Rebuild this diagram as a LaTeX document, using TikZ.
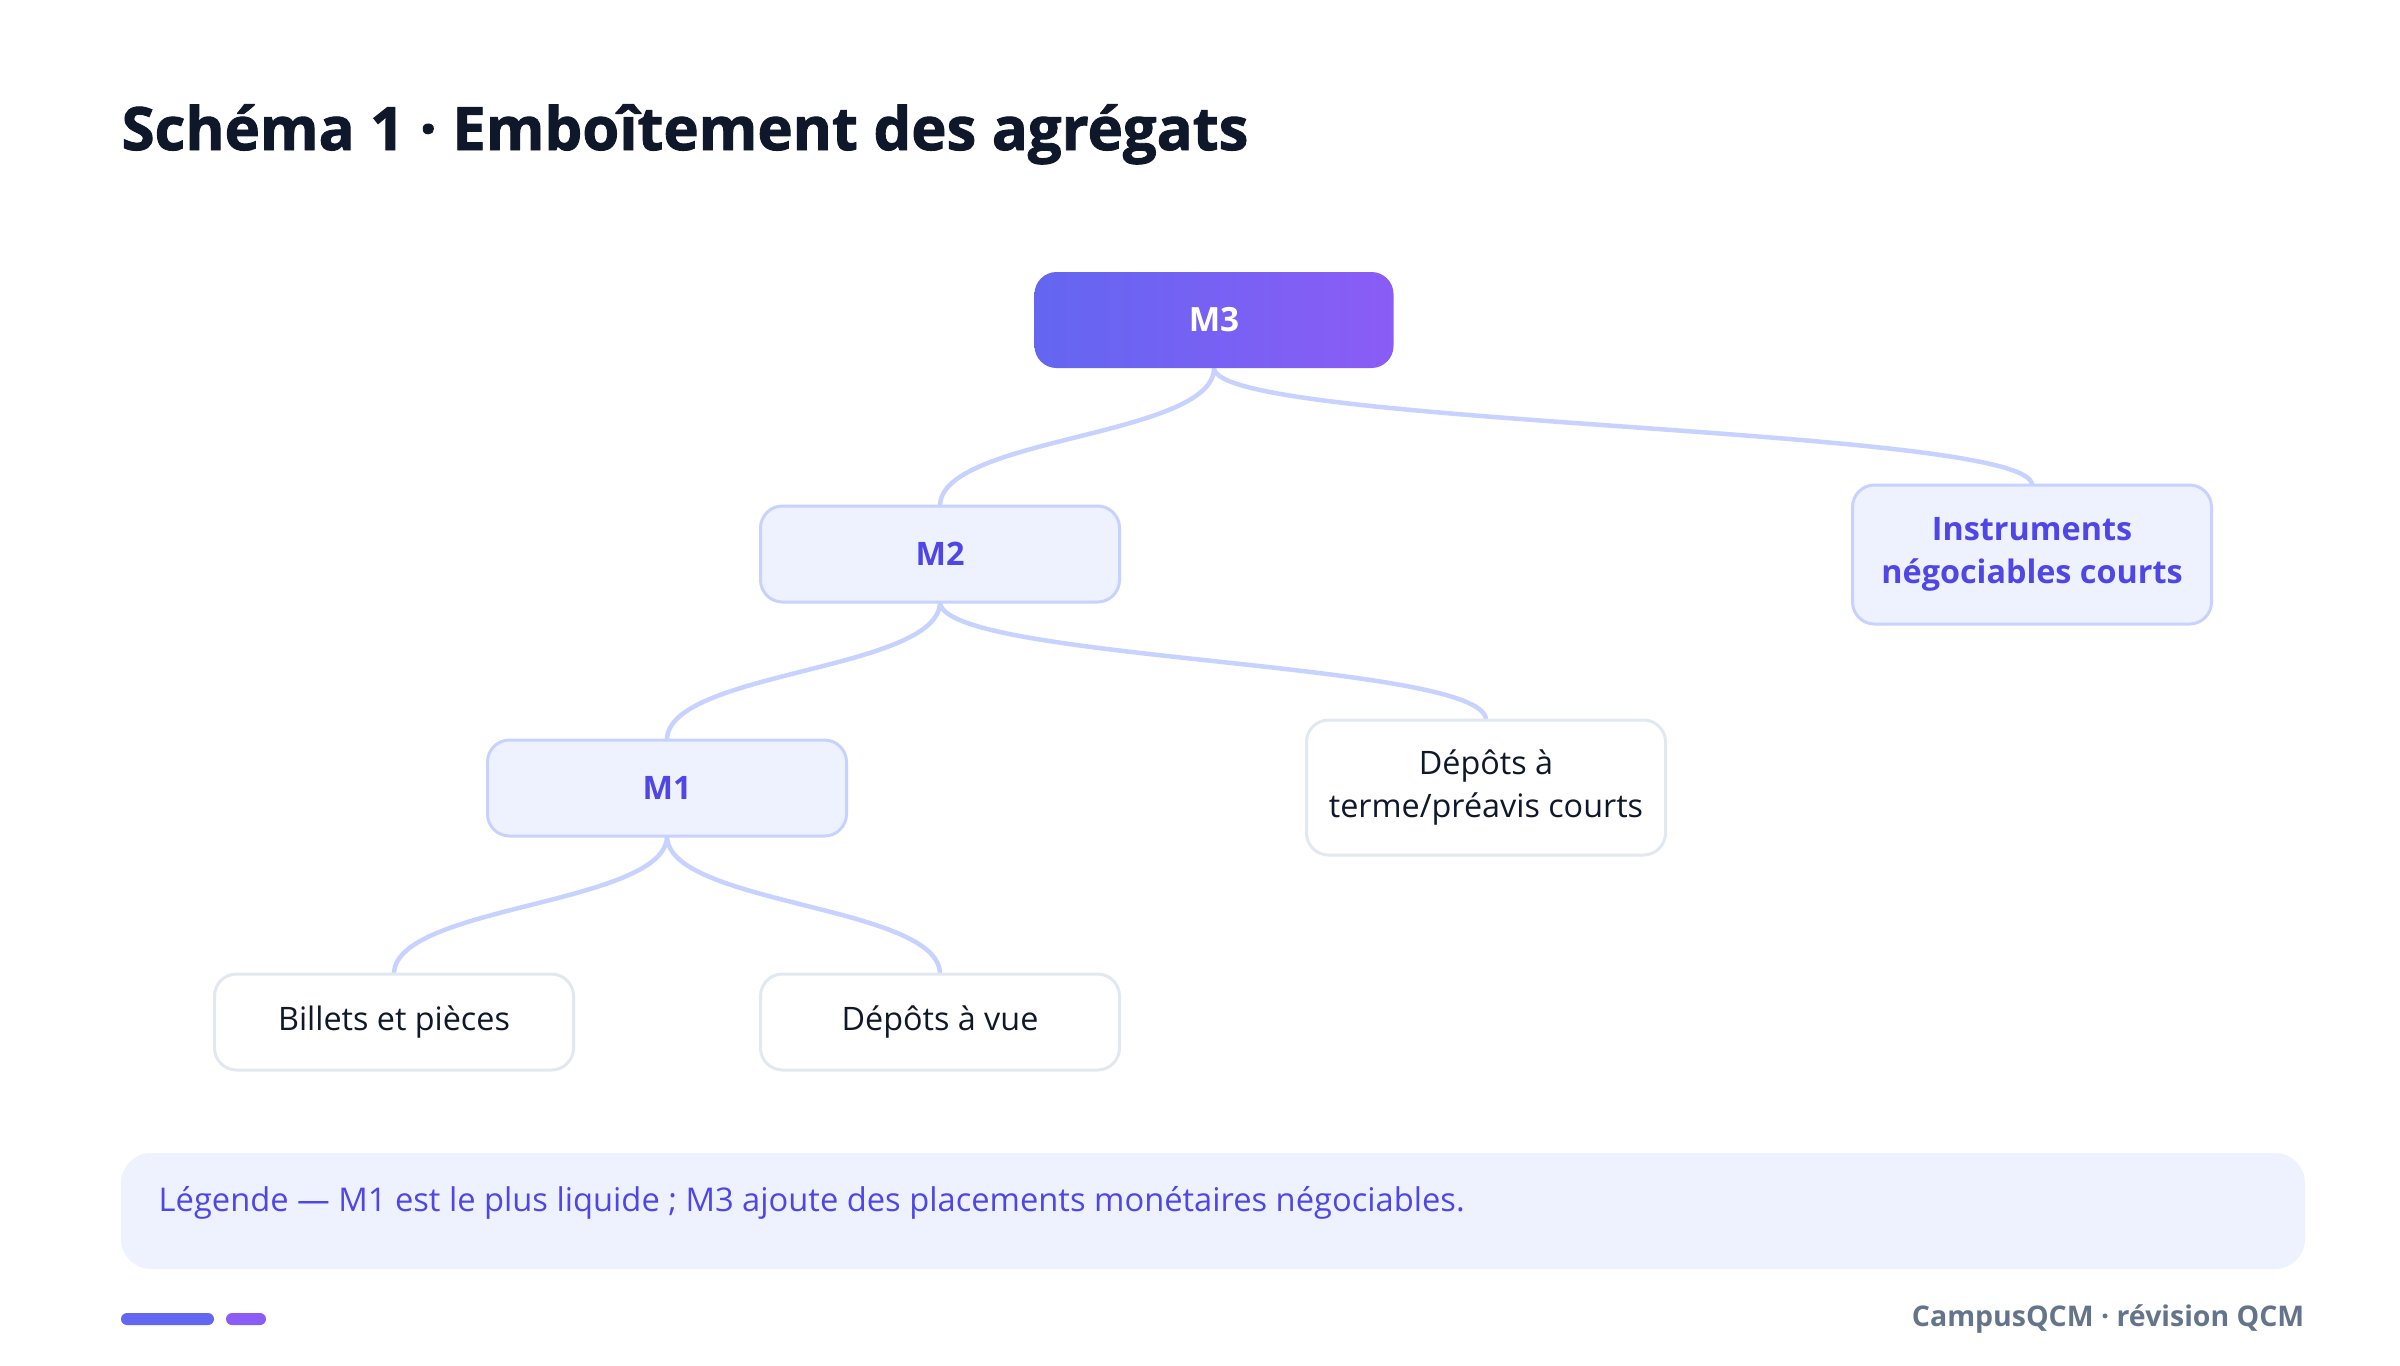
\documentclass[tikz,border=0pt]{standalone}
\usepackage{fontspec}
\setmainfont{Open Sans}
\newfontfamily\titlefont{Open Sans}[BoldFeatures={FakeBold=1.5}]
\usetikzlibrary{calc}
\definecolor{ink}{HTML}{0F172A}
\definecolor{indigoA}{HTML}{6366F1}
\definecolor{violetA}{HTML}{8B5CF6}
\definecolor{indigoT}{HTML}{4F46E5}
\definecolor{lavender}{HTML}{EEF2FF}
\definecolor{linkc}{HTML}{C7D2FE}
\definecolor{leafc}{HTML}{E2E8F0}
\definecolor{footc}{HTML}{64748B}

\begin{document}
\begin{tikzpicture}
        \tikzset{
            box/.style={rounded corners=0.22cm, minimum width=3.59cm, minimum height=0.96cm, line width=0.03cm, align=center, inner sep=0pt},
            rootbox/.style={box, left color=indigoA, right color=violetA, text=white, font=\bfseries\fontsize{9.5}{12.3}\selectfont},
            aggbox/.style={box, draw=linkc, fill=lavender, text=indigoT, font=\bfseries\fontsize{9.2}{12.3}\selectfont},
            leafbox/.style={box, draw=leafc, fill=white, text=ink, font=\fontsize{9.2}{12.3}\selectfont},
            link/.style={draw=linkc, line width=0.045cm,
                to path={let \p1=(\tikztostart), \p2=(\tikztotarget) in
                    .. controls (\x1,{(\y1+\y2)/2}) and (\x2,{(\y1+\y2)/2}) .. (\tikztotarget)}},
        }

        \useasboundingbox (0,0) rectangle (24,-13.65);

        % title
        \node[anchor=base west, inner sep=0pt, text=ink, font=\titlefont\bfseries\fontsize{17}{21}\selectfont] (title) at (1.21,-1.50) {Schéma 1 · Emboîtement des agrégats};

        % links first, boxes on top
        \coordinate (m3s) at (12.14,-3.68);
        \coordinate (m2n) at (9.40,-5.06);
        \coordinate (m2s) at (9.40,-6.02);
        \coordinate (insn) at (20.32,-4.85);
        \coordinate (m1n) at (6.67,-7.40);
        \coordinate (m1s) at (6.67,-8.36);
        \coordinate (dtn) at (14.86,-7.20);
        \coordinate (bpn) at (3.94,-9.74);
        \coordinate (dvn) at (9.40,-9.74);

        \draw[link] (m3s) to (m2n);
        \draw[link] (m3s) to (insn);
        \draw[link] (m2s) to (m1n);
        \draw[link] (m2s) to (dtn);
        \draw[link] (m1s) to (bpn);
        \draw[link] (m1s) to (dvn);

        \node[rootbox] (m3) at (12.14,-3.20) {M3};
        \node[aggbox] (m2) at (9.40,-5.54) {M2};
        \node[aggbox, minimum height=1.39cm] (instruments) at (20.32,-5.545) {Instruments\\négociables courts};
        \node[aggbox] (m1) at (6.67,-7.88) {M1};
        \node[leafbox, minimum height=1.35cm] (terme) at (14.86,-7.875) {Dépôts à\\terme/préavis courts};
        \node[leafbox] (billets) at (3.94,-10.22) {Billets et pièces};
        \node[leafbox] (vue) at (9.40,-10.22) {Dépôts à vue};

        % legend
        \fill[lavender, rounded corners=0.3cm] (1.21,-11.53) rectangle (23.05,-12.69);
        \node[anchor=west, inner sep=0pt, text=indigoT, font=\fontsize{9.3}{12}\selectfont] (legend) at (1.58,-12.03) {Légende — M1 est le plus liquide ; M3 ajoute des placements monétaires négociables.};

        % footer
        \fill[indigoA, rounded corners=0.06cm] (1.21,-13.13) rectangle (2.14,-13.25);
        \fill[violetA, rounded corners=0.06cm] (2.26,-13.13) rectangle (2.66,-13.25);
        \node[anchor=east, inner sep=0pt, text=footc, font=\bfseries\fontsize{8.1}{10}\selectfont] (footer) at (23.05,-13.19) {CampusQCM · révision QCM};
    \end{tikzpicture}
\end{document}
